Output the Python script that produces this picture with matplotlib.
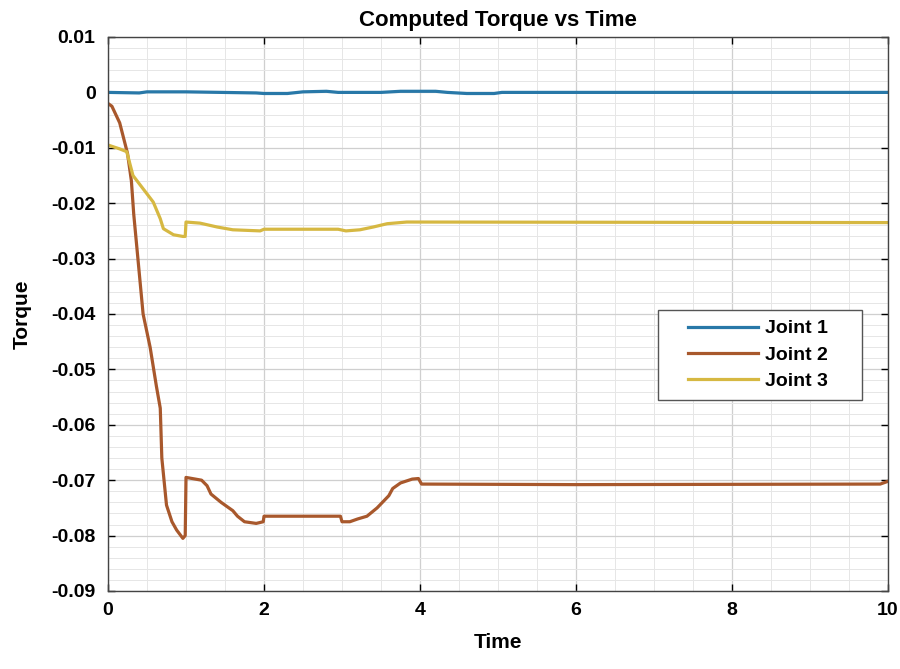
import matplotlib
matplotlib.use("Agg")
import matplotlib.pyplot as plt
from matplotlib.patches import Rectangle
from matplotlib.ticker import MultipleLocator, FuncFormatter

plt.rcParams["font.family"] = ["Liberation Sans", "DejaVu Sans"]
plt.rcParams["font.weight"] = "bold"

# values
t_j1 = [0, 0.4, 0.5, 1.0, 1.9, 2.0, 2.3, 2.5, 2.8, 2.95, 3.5, 3.75, 4.2, 4.35, 4.6, 4.95, 5.05, 10]
tau_j1 = [0, -0.0001, 0.0001, 0.0001, -0.0001, -0.0002, -0.0002, 0.0001, 0.0002, 0.0,
          0.0, 0.0002, 0.0002, 0.0, -0.0002, -0.0002, 0.0, 0.0]

t_j2 = [0, 0.05, 0.15, 0.25, 0.3, 0.33, 0.37, 0.41, 0.45, 0.54, 0.62, 0.67, 0.69, 0.75,
        0.82, 0.88, 0.96, 0.99, 1.0, 1.2, 1.27, 1.32, 1.45, 1.6, 1.66, 1.75, 1.9, 1.99,
        2.0, 2.98, 3.0, 3.1, 3.2, 3.32, 3.45, 3.6, 3.65, 3.75, 3.9, 3.98, 4.02, 6, 9.9, 10]
tau_j2 = [-0.002, -0.0025, -0.0055, -0.011, -0.016, -0.022, -0.028, -0.034, -0.040,
          -0.046, -0.053, -0.057, -0.066, -0.0745, -0.0775, -0.079, -0.0805, -0.080,
          -0.0695, -0.0700, -0.0710, -0.0725, -0.0740, -0.0755, -0.0765, -0.0775,
          -0.0778, -0.0775, -0.0765, -0.0765, -0.0775, -0.0775, -0.0770, -0.0765,
          -0.0750, -0.0728, -0.0715, -0.0705, -0.0698, -0.0697, -0.0707, -0.0708,
          -0.0707, -0.0702]

t_j3 = [0, 0.15, 0.24, 0.32, 0.45, 0.58, 0.67, 0.71, 0.84, 0.96, 0.99, 1.0, 1.18, 1.4,
        1.6, 1.95, 2.0, 2.95, 3.05, 3.23, 3.4, 3.58, 3.83, 10]
tau_j3 = [-0.0095, -0.0102, -0.0107, -0.015, -0.0174, -0.0198, -0.0228, -0.0246,
          -0.0257, -0.026, -0.026, -0.0234, -0.0236, -0.0243, -0.0248, -0.025, -0.0247,
          -0.0247, -0.025, -0.0248, -0.0243, -0.0237, -0.0234, -0.0235]

labels = ["Joint 1", "Joint 2", "Joint 3"]
colors = ["#2878a8", "#a8582c", "#d6b842"]

fig = plt.figure(figsize=(9, 6.69), dpi=100)
ax = fig.add_axes([0.12, 0.1166, 0.8667, 0.8281])

for tt, vv, lab, c in zip([t_j1, t_j2, t_j3], [tau_j1, tau_j2, tau_j3], labels, colors):
    ax.plot(tt, vv, color=c, lw=2.3, label=lab)

ax.set_xlim(0, 10)
ax.set_ylim(-0.09, 0.01)
ax.xaxis.set_major_locator(MultipleLocator(2))
ax.xaxis.set_minor_locator(MultipleLocator(0.5))
ax.yaxis.set_major_locator(MultipleLocator(0.01))
ax.yaxis.set_minor_locator(MultipleLocator(0.002))
ax.yaxis.set_major_formatter(FuncFormatter(lambda v, p: "0" if abs(v) < 1e-9 else f"{v:.2f}"))

ax.grid(which="major", color="#cfcfcf", lw=0.9)
ax.grid(which="minor", color="#e6e6e6", lw=0.7)
ax.set_axisbelow(True)
ax.tick_params(which="both", direction="in", top=True, right=True)
ax.tick_params(which="major", length=5, labelsize=14, width=1)
ax.tick_params(axis="x", which="major", pad=8)
ax.tick_params(axis="y", which="major", pad=9)
ax.tick_params(which="minor", length=0)
for s in ax.spines.values():
    s.set_color("#444444")
    s.set_linewidth(1.0)

ax.set_title("Computed Torque vs Time", fontsize=16, fontweight="bold", pad=8)
ax.set_xlabel("Time", fontsize=15, fontweight="bold", labelpad=10)
ax.set_ylabel("Torque", fontsize=15, fontweight="bold", labelpad=14)

# legend frame drawn separately so the entries can sit inset like the original
ax.add_patch(Rectangle((0.705, 0.345), 0.262, 0.162, transform=ax.transAxes,
                       facecolor="white", edgecolor="#555555", lw=1.0, zorder=4))
leg = ax.legend(loc="center left", bbox_to_anchor=(0.7436, 0.426), frameon=False,
                fontsize=14, handlelength=3.6, borderpad=0, borderaxespad=0,
                labelspacing=0.45, handletextpad=0.35)
leg.set_zorder(5)

fig.savefig("out.png", dpi=100)
